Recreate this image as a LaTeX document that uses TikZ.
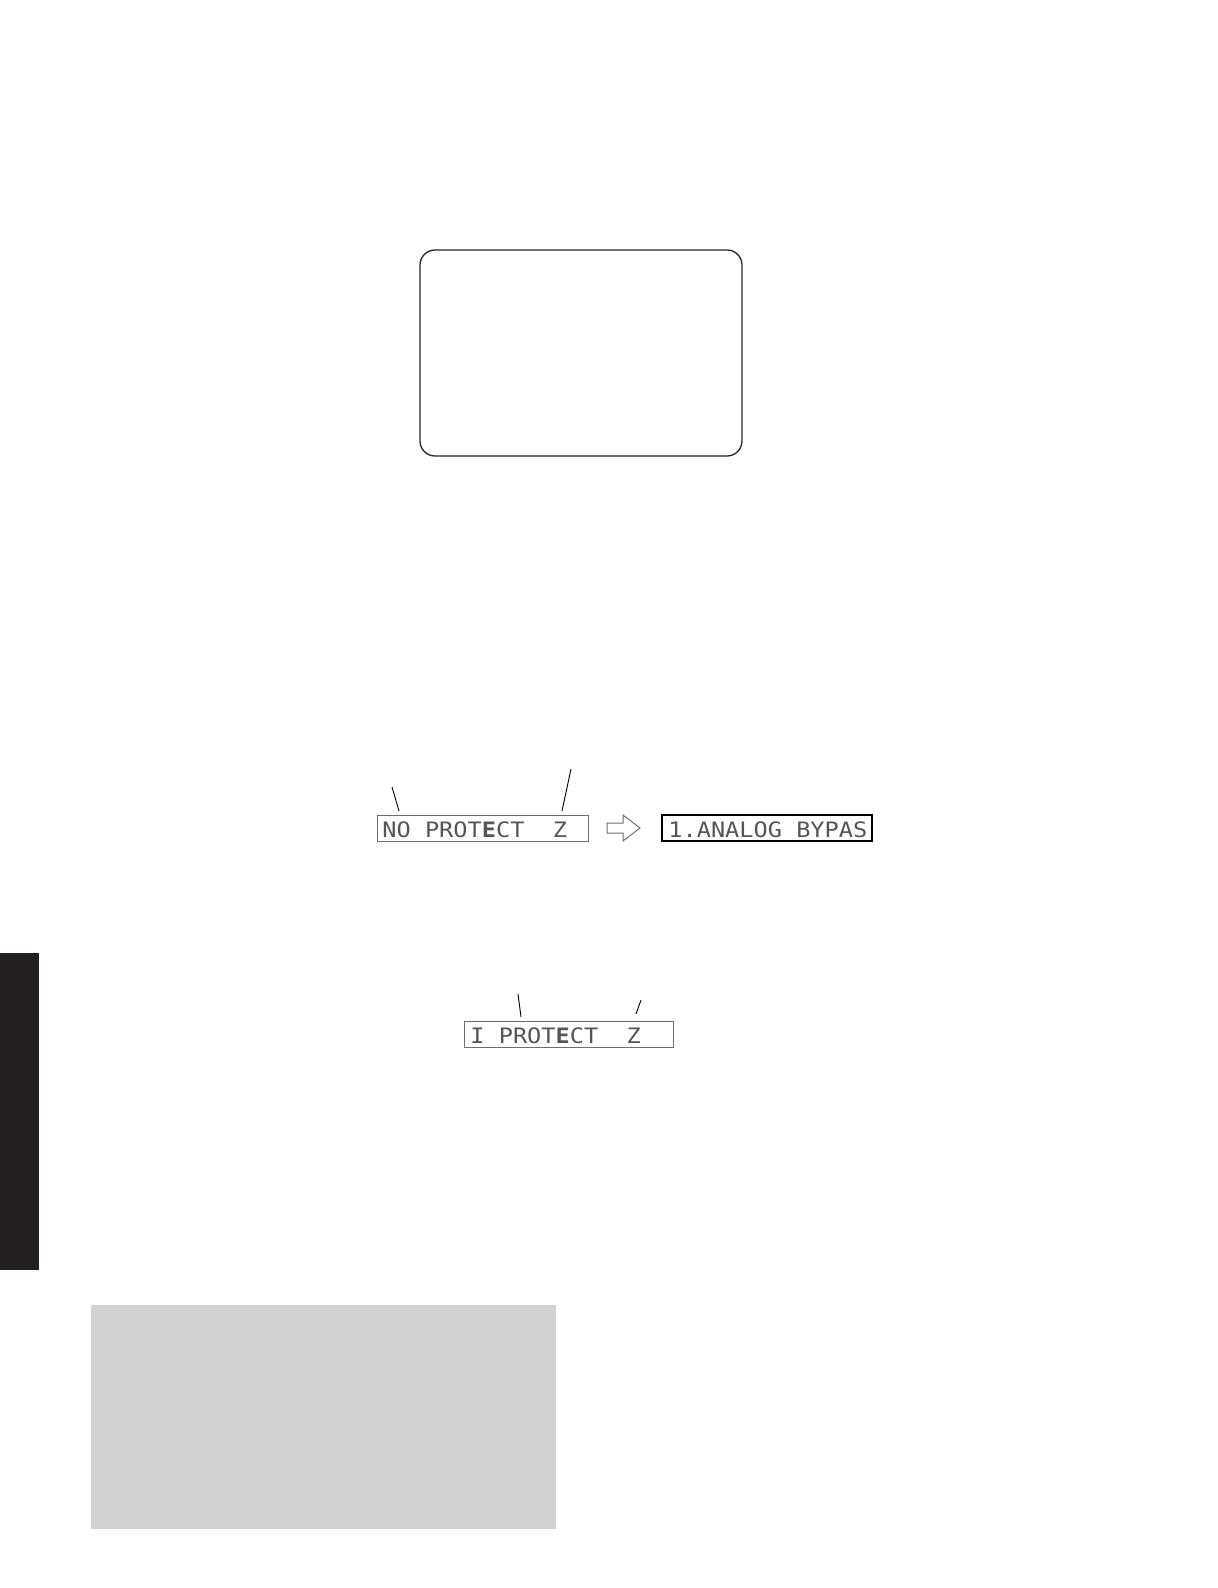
\documentclass[tikz,border=0pt]{standalone}
\usepackage{fontspec}
\usepackage{graphicx}
\newfontfamily\vfdfont{DejaVu Sans Mono}
\definecolor{tabblack}{HTML}{231F20}
\definecolor{panelgray}{HTML}{D2D2D2}
\definecolor{vfdtext}{HTML}{555555}
\definecolor{dispedge}{HTML}{6E6E6E}
\newcommand{\vfd}[1]{\scalebox{1}[0.9]{\vfdfont\fontsize{11.8pt}{13pt}\selectfont #1}}
\begin{document}
\begin{tikzpicture}[x=0.5pt,y=-0.5pt,
  dispbox/.style={draw=dispedge, line width=0.5pt, minimum height=13pt, inner sep=0pt},
  vfdtxt/.style={anchor=base west, inner sep=0pt, text=vfdtext},
  leader/.style={draw=black, line width=0.45pt}]
\useasboundingbox (0,0) rectangle (1218,1588);

% rounded frame
\node[draw=black!85, line width=0.65pt, rounded corners=7.5pt,
      minimum width=161pt, minimum height=103pt, inner sep=0pt] (frame) at (581,353) {};

% black side tab
\node[fill=tabblack, minimum width=19.5pt, minimum height=158.5pt, inner sep=0pt] (tab) at (19.5,1111.5) {};

% gray panel
\node[fill=panelgray, minimum width=232.5pt, minimum height=112pt, inner sep=0pt] (panel) at (323.5,1417) {};

% displays
\node[dispbox, minimum width=105.5pt] (d1) at (482.5,828) {};
\node[dispbox, draw=black, line width=0.75pt, minimum width=105pt] (d2) at (767,828) {};
\node[dispbox, minimum width=104.5pt] (d3) at (568.5,1034) {};

\node[vfdtxt] (t1) at (382,837) {\vfd{NO~PROT{\bfseries E}CT~~Z}};
\node[vfdtxt] (t2) at (668,837) {\vfd{1.ANALOG~BYPAS}};
\node[vfdtxt] (t3) at (470,1043) {\vfd{I~PROT{\bfseries E}CT~~Z}};

% open arrow
\draw[draw=dispedge, line width=0.5pt, line join=miter]
  (607,823) -- (623,823) -- (623,815) -- (640,828) -- (623,841) -- (623,833) -- (607,833) -- cycle;

% leader lines
\coordinate (l1a) at (392,787); \coordinate (l1b) at (399,811);
\coordinate (l2a) at (571,769); \coordinate (l2b) at (562,811);
\coordinate (l3a) at (518,994); \coordinate (l3b) at (521,1017);
\coordinate (l4a) at (641,1000); \coordinate (l4b) at (636,1014);
\draw[leader] (l1a) -- (l1b);
\draw[leader] (l2a) -- (l2b);
\draw[leader] (l3a) -- (l3b);
\draw[leader] (l4a) -- (l4b);
\end{tikzpicture}
\end{document}
